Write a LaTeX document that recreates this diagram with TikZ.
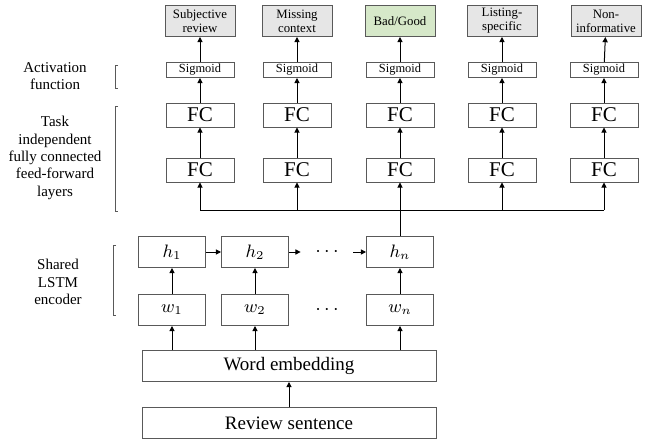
\documentclass[tikz,border=0pt]{standalone}
\usepackage{fontspec}
\setmainfont{Liberation Serif}
\usepackage{tikz}
\usetikzlibrary{arrows.meta}

\definecolor{boxline}{HTML}{595959}
\definecolor{outgray}{HTML}{E6E6E6}
\definecolor{outgreen}{HTML}{D6E8C9}

\tikzset{
  blk/.style={draw=boxline, line width=0.5pt, inner sep=0pt, align=center},
  outbox/.style={blk, fill=outgray, minimum width=35pt, minimum height=15.5pt, font=\fontsize{6.4}{6.9}\selectfont},
  sigbox/.style={blk, minimum width=34pt, minimum height=7.5pt, font=\fontsize{6.2}{7}\selectfont},
  fcbox/.style={blk, minimum width=34pt, minimum height=12pt, font=\fontsize{10.5}{12}\selectfont},
  cellbox/.style={blk, minimum width=33.5pt, minimum height=15.5pt, font=\fontsize{9}{10}\selectfont},
  widebox/.style={blk, minimum width=147pt, minimum height=15.5pt, font=\fontsize{9.5}{11}\selectfont},
  sidelabel/.style={align=center, font=\fontsize{7.5}{8.7}\selectfont},
  arr/.style={-{Triangle[length=2.6pt,width=2.6pt]}, line width=0.5pt},
  brack/.style={draw=boxline, line width=0.5pt},
}

\begin{document}
\begin{tikzpicture}[x=0.5pt,y=-0.5pt]
    \useasboundingbox (0,0) rectangle (649,439);

    \node[outbox] (o1) at (200,21) {Subjective\\review};% outputs
    \node[outbox] (o2) at (297,21) {Missing\\context};
    \node[outbox, fill=outgreen] (o3) at (400,21) {Bad/Good};
    \node[outbox] (o4) at (502,21) {Listing-\\specific};
    \node[outbox] (o5) at (606,21) {Non-\\informative};

    \node[sigbox] (s1) at (200,70) {Sigmoid};% activation
    \node[sigbox] (s2) at (297,70) {Sigmoid};
    \node[sigbox] (s3) at (400,70) {Sigmoid};
    \node[sigbox] (s4) at (502,70) {Sigmoid};
    \node[sigbox] (s5) at (604,70) {Sigmoid};

    \node[fcbox] (fa1) at (200,115) {FC};% upper FC layer
    \node[fcbox] (fa2) at (297,115) {FC};
    \node[fcbox] (fa3) at (400,115) {FC};
    \node[fcbox] (fa4) at (502,115) {FC};
    \node[fcbox] (fa5) at (604,115) {FC};

    \node[fcbox] (fb1) at (200,170) {FC};% lower FC layer
    \node[fcbox] (fb2) at (297,170) {FC};
    \node[fcbox] (fb3) at (400,170) {FC};
    \node[fcbox] (fb4) at (502,170) {FC};
    \node[fcbox] (fb5) at (604,170) {FC};

    \foreach \c in {1,...,5} {% column arrows
        \draw[arr] (fb\c) -- (fa\c);
        \draw[arr] (fa\c) -- (s\c);
        \draw[arr] (s\c) -- (o\c);
    }

    \node[cellbox] (h1) at (172,252) {$h_1$};% LSTM states
    \node[cellbox] (h2) at (255,252) {$h_2$};
    \node[minimum width=26pt, inner sep=0pt] (hdots) at (327,252) {$\cdots$};
    \node[cellbox] (hn) at (400,252) {$h_n$};

    \node[cellbox] (w1) at (172,310) {$w_1$};% word inputs
    \node[cellbox] (w2) at (255,310) {$w_2$};
    \node[inner sep=0pt] (wdots) at (327,310) {$\cdots$};
    \node[cellbox] (wn) at (400,310) {$w_n$};

    \node[widebox] (emb) at (289,366) {Word embedding};
    \node[widebox] (rev) at (289,423) {Review sentence};

    \draw[arr] (rev.north -| emb) -- (emb);
    \draw[arr] (emb.north -| w1) -- (w1);
    \draw[arr] (emb.north -| w2) -- (w2);
    \draw[arr] (emb.north -| wn) -- (wn);
    \draw[arr] (w1) -- (h1);
    \draw[arr] (w2) -- (h2);
    \draw[arr] (wn) -- (hn);
    \draw[arr] (h1) -- (h2);
    \draw[arr] (h2) -- (hdots);
    \draw[arr] (hdots) -- (hn);

    \coordinate (bus) at (400,210);% shared line
    \draw[line width=0.5pt] (hn) -- (bus);
    \draw[line width=0.5pt] (fb1 |- bus) -- (fb5 |- bus);
    \foreach \c in {1,...,5}
        \draw[arr] (fb\c |- bus) -- (fb\c);

    \node[sidelabel] (lact) at (55,76) {Activation\\function};% side labels
    \node[sidelabel] (ltask) at (55,158) {Task\\independent\\fully connected\\feed-forward\\layers};
    \node[sidelabel] (llstm) at (58,282) {Shared\\LSTM\\encoder};

    \draw[brack] (118,65) -- (115,65) -- (115,88) -- (118,88);% brackets
    \draw[brack] (118,106) -- (115,106) -- (115,211) -- (118,211);
    \draw[brack] (116,245) -- (113,245) -- (113,315) -- (116,315);

\end{tikzpicture}
\end{document}
